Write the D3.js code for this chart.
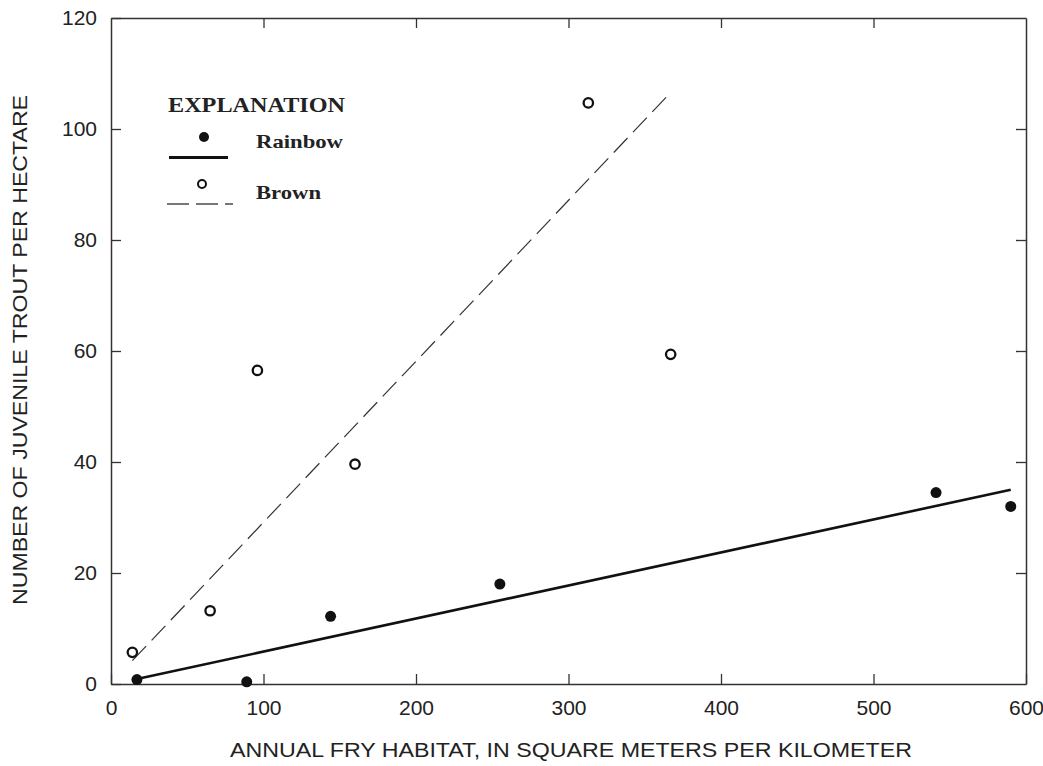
<!DOCTYPE html>
<html>
<head>
<meta charset="utf-8">
<script src="https://cdn.jsdelivr.net/npm/d3@7"></script>
<style>
  body { margin: 0; background: #fff; }
  text { fill: #222; }
  .tick text { font-family: "Liberation Sans", Arial, sans-serif; font-size: 21px; fill: #222; }
  .axisText { font-family: "Liberation Sans", Arial, sans-serif; font-size: 20px; }
  .legendText { font-family: "Liberation Serif", serif; font-weight: bold; }
</style>
</head>
<body>
<div id="chart"></div>
<script>
// data
var rainbowX = [17, 89, 144, 255, 541, 590];
var rainbowY = [0.8, 0.4, 12.2, 18, 34.5, 32];
var brownX = [14, 65, 96, 160, 313, 367];
var brownY = [5.7, 13.2, 56.5, 39.6, 104.7, 59.4];
// fitted lines, endpoints as drawn
var rainbowFit = [[17, 0.9], [590, 35]];
var brownFit = [[14, 4.2], [365, 106]];
var xTicks = [0, 100, 200, 300, 400, 500, 600];
var yTicks = [0, 20, 40, 60, 80, 100, 120];

var svgWidth = 1043;
var svgHeight = 766;
var margin = { top: 18, right: 17, bottom: 82, left: 111 };
var width = svgWidth - margin.left - margin.right;
var height = svgHeight - margin.top - margin.bottom;

var svg = d3.select("#chart")
  .append("svg")
  .attr("width", svgWidth)
  .attr("height", svgHeight);

var chartGroup = svg.append("g")
  .attr("transform", `translate(${margin.left}, ${margin.top})`);

var xScale = d3.scaleLinear().domain([0, 600]).range([0, width]);
var yScale = d3.scaleLinear().domain([0, 120]).range([height, 0]);

// axes with inward ticks on all four sides
function styleAxis(g) {
  g.select(".domain").attr("stroke", "#333").attr("stroke-width", 1.5);
  g.selectAll(".tick line").attr("stroke", "#333").attr("stroke-width", 1.3);
}

chartGroup.append("g")
  .attr("transform", `translate(0,${height})`)
  .call(d3.axisBottom(xScale).tickValues(xTicks).tickSizeInner(-10).tickSizeOuter(0).tickPadding(16))
  .call(styleAxis)
  .call(g => g.selectAll(".tick text").attr("dy", "0.71em"));

chartGroup.append("g")
  .call(d3.axisLeft(yScale).tickValues(yTicks).tickSizeInner(-10).tickSizeOuter(0).tickPadding(14))
  .call(styleAxis);

chartGroup.append("g")
  .call(d3.axisTop(xScale).tickValues(xTicks.slice(1, -1)).tickSizeInner(-10).tickSizeOuter(0).tickFormat(""))
  .call(styleAxis);

chartGroup.append("g")
  .attr("transform", `translate(${width},0)`)
  .call(d3.axisRight(yScale).tickValues(yTicks.slice(1, -1)).tickSizeInner(-10).tickSizeOuter(0).tickFormat(""))
  .call(styleAxis);

// fit lines
var line = d3.line().x(d => xScale(d[0])).y(d => yScale(d[1]));

chartGroup.append("path")
  .datum(rainbowFit)
  .attr("d", line)
  .attr("fill", "none")
  .attr("stroke", "#111")
  .attr("stroke-width", 2.6);

chartGroup.append("path")
  .datum(brownFit)
  .attr("d", line)
  .attr("fill", "none")
  .attr("stroke", "#333")
  .attr("stroke-width", 1.2)
  .attr("stroke-dasharray", "20,8");

// points
chartGroup.selectAll(".rainbow")
  .data(d3.zip(rainbowX, rainbowY))
  .enter()
  .append("circle")
  .attr("class", "rainbow")
  .attr("cx", d => xScale(d[0]))
  .attr("cy", d => yScale(d[1]))
  .attr("r", 5.5)
  .attr("fill", "#111");

chartGroup.selectAll(".brown")
  .data(d3.zip(brownX, brownY))
  .enter()
  .append("circle")
  .attr("class", "brown")
  .attr("cx", d => xScale(d[0]))
  .attr("cy", d => yScale(d[1]))
  .attr("r", 4.7)
  .attr("fill", "#fff")
  .attr("stroke", "#111")
  .attr("stroke-width", 2.3);

// legend
var legend = svg.append("g");
legend.append("text")
  .attr("class", "legendText")
  .attr("x", 168).attr("y", 112)
  .attr("textLength", 177).attr("lengthAdjust", "spacingAndGlyphs")
  .style("font-size", "22px")
  .text("EXPLANATION");
legend.append("circle").attr("cx", 204).attr("cy", 137).attr("r", 5).attr("fill", "#111");
legend.append("text")
  .attr("class", "legendText")
  .attr("x", 256).attr("y", 148)
  .attr("textLength", 87).attr("lengthAdjust", "spacingAndGlyphs")
  .style("font-size", "19px")
  .text("Rainbow");
legend.append("line")
  .attr("x1", 169).attr("x2", 228).attr("y1", 157.5).attr("y2", 157.5)
  .attr("stroke", "#111").attr("stroke-width", 2.8);
legend.append("circle").attr("cx", 202).attr("cy", 184).attr("r", 4)
  .attr("fill", "#fff").attr("stroke", "#111").attr("stroke-width", 2);
legend.append("text")
  .attr("class", "legendText")
  .attr("x", 256).attr("y", 199)
  .attr("textLength", 65).attr("lengthAdjust", "spacingAndGlyphs")
  .style("font-size", "19px")
  .text("Brown");
legend.append("line")
  .attr("x1", 167).attr("x2", 233).attr("y1", 204).attr("y2", 204)
  .attr("stroke", "#777").attr("stroke-width", 1.8)
  .attr("stroke-dasharray", "22,7");

// axis labels
svg.append("text")
  .attr("class", "axisText")
  .attr("text-anchor", "middle")
  .attr("transform", `translate(27, ${350}) rotate(-90)`)
  .attr("textLength", 510).attr("lengthAdjust", "spacingAndGlyphs")
  .text("NUMBER OF JUVENILE TROUT PER HECTARE");

svg.append("text")
  .attr("class", "axisText")
  .attr("text-anchor", "middle")
  .attr("x", 571).attr("y", 757)
  .attr("textLength", 682).attr("lengthAdjust", "spacingAndGlyphs")
  .text("ANNUAL FRY HABITAT, IN SQUARE METERS PER KILOMETER");
</script>
</body>
</html>
